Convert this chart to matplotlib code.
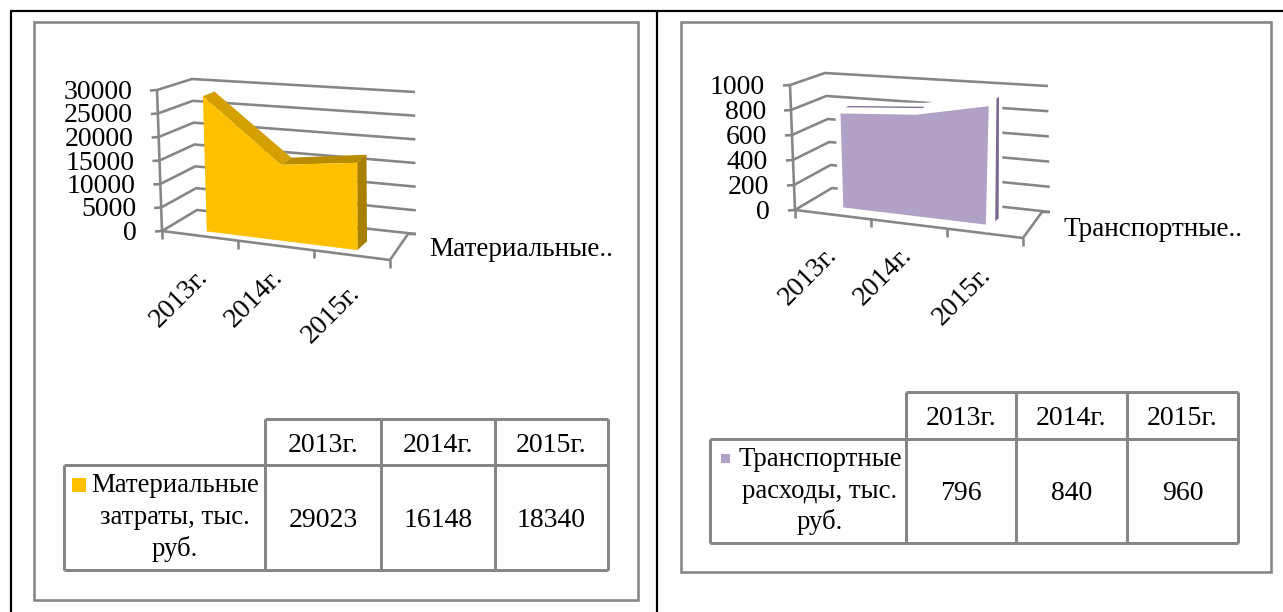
#!/usr/bin/env python3
"""Two pseudo-3D area charts with data tables, side by side."""

import matplotlib
matplotlib.use("Agg")
import matplotlib.pyplot as plt
from matplotlib.patches import Polygon, Rectangle

plt.rcParams["font.family"] = ["Liberation Serif", "DejaVu Serif"]

YEARS = ["2013г.", "2014г.", "2015г."]

MATERIAL_VALUES = [29023, 16148, 18340]
MATERIAL_TICKS = [0, 5000, 10000, 15000, 20000, 25000, 30000]
MATERIAL_LEGEND = "Материальные.."
MATERIAL_ROW = ["Материальные", "затраты, тыс.", "руб."]

TRANSPORT_VALUES = [796, 840, 960]
TRANSPORT_TICKS = [0, 200, 400, 600, 800, 1000]
TRANSPORT_LEGEND = "Транспортные.."
TRANSPORT_ROW = ["Транспортные", "расходы, тыс.", "руб."]

GREY = "#868686"
FONT = 20
PX = 0.72  # one pixel in points at dpi 100


def project(p, u, d, v):
    """Trilinear map of (category frac, depth frac, value frac) to pixels."""
    out = []
    for i in (0, 1):
        front = (1 - v) * ((1 - u) * p["flb"][i] + u * p["frb"][i]) + v * ((1 - u) * p["flt"][i] + u * p["frt"][i])
        back = (1 - v) * ((1 - u) * p["blb"][i] + u * p["brb"][i]) + v * ((1 - u) * p["blt"][i] + u * p["brt"][i])
        out.append((1 - d) * front + d * back)
    return out


def line(ax, pts, color=GREY, width=2.6, z=2):
    ax.plot([q[0] for q in pts], [q[1] for q in pts], color=color, lw=width * PX,
            solid_capstyle="butt", solid_joinstyle="miter", zorder=z)


def draw_walls(ax, p, ticks):
    top = ticks[-1]
    for t in ticks:
        v = t / top
        a = project(p, 0, 0, v)
        b = project(p, 0, 1, v)
        c = project(p, 1, 1, v)
        line(ax, [(a[0] - 7, a[1] + 0.5), a, b, c])
        ax.text(a[0] - 25, a[1] + 2.5, str(t), fontsize=FONT,
                ha="right", va="center", color="black", zorder=5)
    line(ax, [project(p, 0, 0, 0), project(p, 0, 0, 1)])
    # floor edges and tick marks
    flb, frb, brb = project(p, 0, 0, 0), project(p, 1, 0, 0), project(p, 1, 1, 0)
    line(ax, [flb, frb, (brb[0] - 8, brb[1]), brb])
    for k in range(len(YEARS) + 1):
        a = project(p, k / len(YEARS), 0, 0)
        line(ax, [a, (a[0], a[1] + 8)])


def draw_area(ax, p, values, top):
    cats = p["cats"]
    d0, d1 = p["depth"]
    vals = [v / top for v in values]
    edge = p["edge"]
    lw = p["edge_width"] * PX
    kw = dict(edgecolor=edge, linewidth=lw, joinstyle="miter") if edge else dict(edgecolor="none")

    for i in range(len(vals) - 1):
        pts = [project(p, cats[i], d0, vals[i]), project(p, cats[i + 1], d0, vals[i + 1]),
               project(p, cats[i + 1], d1, vals[i + 1]), project(p, cats[i], d1, vals[i])]
        ax.add_patch(Polygon(pts, closed=True, facecolor=p["top_colors"][i], zorder=3, **kw))
    side = [project(p, cats[-1], d0, vals[-1]), project(p, cats[-1], d1, vals[-1]),
            project(p, cats[-1], d1, 0), project(p, cats[-1], d0, 0)]
    ax.add_patch(Polygon(side, closed=True, facecolor=p["side_color"], zorder=3, **kw))

    front = [project(p, c, d0, v) for c, v in zip(cats, vals)]
    front += [project(p, cats[-1], d0, 0), project(p, cats[0], d0, 0)]
    ax.add_patch(Polygon(front, closed=True, facecolor=p["color"], zorder=4, **kw))

    if p["sliver"]:
        # only a thin strip of the shaded faces shows through the white outline
        dark = p["sliver"]
        a, b = d1 - 0.16, d1 - 0.04
        strip = [project(p, cats[-1], b, vals[-1]), project(p, cats[-1], b, 0),
                 project(p, cats[-1], a, 0), project(p, cats[-1], a, vals[-1])]
        ax.add_patch(Polygon(strip, closed=True, facecolor=dark, edgecolor="none", zorder=4))
        a, b = d1 - 0.16, d1 - 0.08
        strip = [project(p, cats[0], b, vals[0]), project(p, cats[1], b, vals[1]),
                 project(p, cats[1], a, vals[1]), project(p, cats[0], a, vals[0])]
        ax.add_patch(Polygon(strip, closed=True, facecolor=dark, edgecolor="none", zorder=4))


def draw_year_labels(ax, p):
    for k, year in enumerate(YEARS):
        x, y = p["year_ends"][k]
        ax.text(x, y, year, fontsize=FONT, rotation=45, rotation_mode="anchor",
                ha="right", va="center", color="black", zorder=5)


def draw_table(ax, t, values, row, color):
    xs = t["xs"]
    y0, y1, y2 = t["ys"]
    line(ax, [(xs[1], y0), (xs[-1], y0)], width=3)
    line(ax, [(xs[0], y1), (xs[-1], y1)], width=3)
    line(ax, [(xs[0], y2), (xs[-1], y2)], width=3)
    line(ax, [(xs[0], y1), (xs[0], y2)], width=3)
    for x in xs[1:]:
        line(ax, [(x, y0), (x, y2)], width=3)
    for k, year in enumerate(YEARS):
        cx = (xs[k + 1] + xs[k + 2]) / 2
        ax.text(cx, (y0 + y1) / 2 + 3, year, fontsize=FONT, ha="center", va="center")
        ax.text(cx, (y1 + y2) / 2 + 3, str(values[k]), fontsize=FONT, ha="center", va="center")
    sx, sy, ss = t["swatch"]
    ax.add_patch(Rectangle((sx, sy), ss, ss, facecolor=color, edgecolor="none", zorder=3))
    for k in range(3):
        ax.text(t["row_cx"], t["row_ys"][k], row[k], fontsize=19.3, ha="center", va="center")


LEFT = {
    "flb": (162, 231), "flt": (157, 90), "frb": (390, 260), "frt": (391, 116),
    "blb": (197, 210), "blt": (192, 79), "brb": (416, 234), "brt": (415, 92),
    "cats": (0.167, 0.5, 0.833), "depth": (0.2, 0.55),
    "color": "#FFC000", "top_colors": ("#D4A000", "#B98C00"), "side_color": "#A88000",
    "edge": None, "edge_width": 0, "sliver": None,
    "year_ends": ((204, 273), (279, 273), (356, 289)),
}
RIGHT = {
    "flb": (795, 210), "flt": (790, 85), "frb": (1023, 238), "frt": (1030, 106),
    "blb": (832, 188), "blt": (825, 73), "brb": (1050, 212), "brt": (1048, 86),
    "cats": (0.167, 0.5, 0.82), "depth": (0.22, 0.62),
    "color": "#B2A1C7", "top_colors": ("white", "white"), "side_color": "white",
    "edge": "white", "edge_width": 5, "sliver": "#7B6A8E",
    "year_ends": ((833, 251), (908, 251), (987, 271)),
}
LEFT_TABLE = {
    "xs": (64, 265, 381, 495, 608), "ys": (419, 465, 570),
    "swatch": (72, 478, 14), "row_ys": (486, 518, 549), "row_cx": 175,
}
RIGHT_TABLE = {
    "xs": (710, 906, 1016, 1127, 1238), "ys": (392, 439, 543),
    "swatch": (721, 454, 9), "row_ys": (460, 491, 522), "row_cx": 820,
}


def main():
    fig = plt.figure(figsize=(12.83, 6.12), dpi=100)
    ax = fig.add_axes([0, 0, 1, 1])
    ax.set_xlim(0, 1283)
    ax.set_ylim(612, 0)
    ax.axis("off")

    # page borders behind the two chart frames
    line(ax, [(11, 612), (11, 11), (1283, 11)], color="black", width=2.2)
    line(ax, [(657, 11), (657, 612)], color="black", width=2.2)
    ax.add_patch(Rectangle((34, 22), 604, 578, facecolor="white", edgecolor=GREY, lw=2.6 * PX, zorder=1))
    ax.add_patch(Rectangle((681, 22), 590, 550, facecolor="white", edgecolor=GREY, lw=2.6 * PX, zorder=1))

    draw_walls(ax, LEFT, MATERIAL_TICKS)
    draw_area(ax, LEFT, MATERIAL_VALUES, MATERIAL_TICKS[-1])
    draw_year_labels(ax, LEFT)
    ax.text(429, 249, MATERIAL_LEGEND, fontsize=19.5, ha="left", va="center")
    draw_table(ax, LEFT_TABLE, MATERIAL_VALUES, MATERIAL_ROW, LEFT["color"])

    draw_walls(ax, RIGHT, TRANSPORT_TICKS)
    draw_area(ax, RIGHT, TRANSPORT_VALUES, TRANSPORT_TICKS[-1])
    draw_year_labels(ax, RIGHT)
    ax.text(1063, 229, TRANSPORT_LEGEND, fontsize=19.5, ha="left", va="center")
    draw_table(ax, RIGHT_TABLE, TRANSPORT_VALUES, TRANSPORT_ROW, RIGHT["color"])

    fig.savefig("out.png", dpi=100)
    plt.close(fig)


if __name__ == "__main__":
    main()
